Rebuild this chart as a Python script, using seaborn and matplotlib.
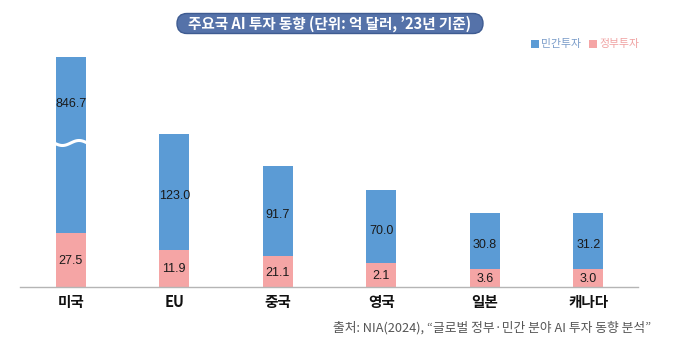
import numpy as np
import pandas as pd
import matplotlib
matplotlib.use("Agg")
import matplotlib.pyplot as plt
from matplotlib.patches import FancyBboxPatch, Rectangle
import seaborn as sns

# ---- data ----
countries = ['미국', 'EU', '중국', '영국', '일본', '캐나다']
private_invest = [846.7, 123.0, 91.7, 70.0, 30.8, 31.2]   # 민간투자 (억 달러)
gov_invest = [27.5, 11.9, 21.1, 2.1, 3.6, 3.0]            # 정부투자 (억 달러)
# The reference draws bars schematically (not to scale); drawn heights
drawn_total = [230, 153, 121, 97, 74, 74]
drawn_gov = [54, 37, 31, 24, 18, 18]

title = "주요국 AI 투자 동향 (단위: 억 달러, ’23년 기준)"
legend_labels = ['민간투자', '정부투자']
source = "출처: NIA(2024), “글로벌 정부·민간 분야 AI 투자 동향 분석”"

BLUE = '#5b9bd5'
PINK = '#f5a5a5'

sns.set_theme(style='white')
plt.rcParams['font.family'] = ['Noto Sans CJK KR', 'DejaVu Sans']

fig = plt.figure(figsize=(7, 3.62), dpi=100)
W, H = 700, 362
ax = fig.add_axes([20 / W, 1 - 287 / H, 618 / W, 237 / H])

df = pd.DataFrame({'country': countries, 'total': drawn_total, 'gov': drawn_gov,
                   'private': private_invest, 'govv': gov_invest})

sns.barplot(data=df, x='country', y='total', color=BLUE, width=0.29,
            saturation=1, ax=ax, linewidth=0)
sns.barplot(data=df, x='country', y='gov', color=PINK, width=0.29,
            saturation=1, ax=ax, linewidth=0)

ax.set_ylim(0, 237)
ax.set_xlim(-0.49, 5.48)
ax.set_xlabel('')
ax.set_ylabel('')
ax.set_yticks([])
for s in ['left', 'right', 'top']:
    ax.spines[s].set_visible(False)
ax.spines['bottom'].set_color('#b5b5b5')
ax.spines['bottom'].set_linewidth(1.0)
ax.tick_params(axis='x', length=0, pad=5)
for lbl in ax.get_xticklabels():
    lbl.set_fontsize(10.5)
    lbl.set_fontweight('bold')
    lbl.set_color('#111111')

num_font = ['Liberation Sans', 'DejaVu Sans']
for i in range(len(countries)):
    g_h = drawn_gov[i]
    t_h = drawn_total[i]
    ax.text(i, g_h / 2 - 1, f"{gov_invest[i]:.1f}", ha='center', va='center',
            fontsize=9, color='#1a1a1a', family=num_font)
    if i == 0:
        wave_y = 144
        y_lab = (t_h + wave_y) / 2 - 4
    else:
        y_lab = (g_h + t_h) / 2 - 4
    ax.text(i, y_lab, f"{private_invest[i]:.1f}", ha='center', va='center',
            fontsize=9, color='#1a1a1a', family=num_font)

# broken-axis wave on the first bar
xs = np.linspace(-0.16, 0.16, 60)
ax.plot(xs, 144 - 2.5 * np.sin((xs + 0.16) / 0.32 * 2 * np.pi), color='white', lw=2.2,
        solid_capstyle='butt', zorder=5)

# ---- overlay for title, legend, source ----
ov = fig.add_axes([0, 0, 1, 1], zorder=10)
ov.set_xlim(0, W)
ov.set_ylim(H, 0)
ov.axis('off')
ov.patch.set_alpha(0)

pill = FancyBboxPatch((177, 13.5), 306, 20, boxstyle='round,pad=0,rounding_size=10',
                      fc='#5572a9', ec='#3e5b91', lw=1.0)
ov.add_patch(pill)
ov.text(330, 23.5, title, ha='center', va='center', fontsize=10.5, fontweight='bold',
        color='white')

ov.add_patch(Rectangle((531, 40), 7.5, 7.5, fc=BLUE, ec='none'))
ov.text(541, 44, legend_labels[0], ha='left', va='center', fontsize=7.8, color='#7a9cc9')
ov.add_patch(Rectangle((589, 40), 7.5, 7.5, fc=PINK, ec='none'))
ov.text(599, 44, legend_labels[1], ha='left', va='center', fontsize=7.8, color='#f0a2a2')

ov.text(651, 328, source, ha='right', va='center', fontsize=9.2, color='#555555')

fig.savefig('out.png', dpi=100)
